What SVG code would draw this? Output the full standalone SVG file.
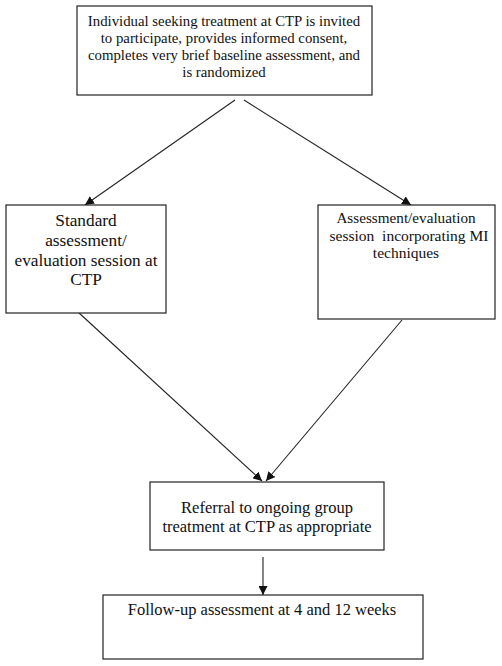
<svg xmlns="http://www.w3.org/2000/svg" width="502" height="666" viewBox="0 0 502 666">
<defs>
<style>
.box{fill:#fff;stroke:#222;stroke-width:1.2}
.t{fill:#111;text-anchor:middle}
.c{stroke:#222;stroke-width:1.1;fill:none;marker-end:url(#ah)}
</style>
<marker id="ah" viewBox="0 0 10 10" refX="10" refY="5" markerWidth="9" markerHeight="9" markerUnits="userSpaceOnUse" orient="auto">
<path d="M0,0 L10,5 L0,10 z" fill="#111"/>
</marker>
</defs>
<rect width="502" height="666" fill="#fff"/>
<g id="connectors">
<line class="c" x1="235" y1="100" x2="85" y2="205"/>
<line class="c" x1="244" y1="100" x2="411" y2="205"/>
<line class="c" x1="78" y1="312" x2="262" y2="481"/>
<line class="c" x1="402" y1="320" x2="266" y2="481"/>
<line class="c" x1="263" y1="557" x2="263" y2="595"/>
</g>
<g font-family="'Liberation Serif', 'DejaVu Serif', serif">
<g id="n1">
<rect class="box" x="77" y="6" width="295" height="89"/>
<text class="t" font-size="14.8" x="224" y="26">Individual seeking treatment at CTP is invited</text>
<text class="t" font-size="14.8" x="224" y="43">to participate, provides informed consent,</text>
<text class="t" font-size="14.8" x="224" y="60">completes very brief baseline assessment, and</text>
<text class="t" font-size="14.8" x="224" y="77">is randomized</text>
</g>
<g id="n2">
<rect class="box" x="6" y="205" width="160" height="108"/>
<text class="t" font-size="17.3" x="86" y="226">Standard</text>
<text class="t" font-size="17.3" x="86" y="246">assessment/</text>
<text class="t" font-size="17.3" x="86" y="266">evaluation session at</text>
<text class="t" font-size="17.3" x="86" y="285">CTP</text>
</g>
<g id="n3">
<rect class="box" x="318" y="205" width="177" height="114"/>
<text class="t" font-size="15.2" x="406" y="223">Assessment/evaluation</text>
<text class="t" font-size="15.5" x="409" y="241" xml:space="preserve">session  incorporating MI</text>
<text class="t" font-size="15.5" x="406" y="258">techniques</text>
</g>
<g id="n4">
<rect class="box" x="150" y="482" width="234" height="68"/>
<text class="t" font-size="16.5" x="267" y="513">Referral to ongoing group</text>
<text class="t" font-size="16.5" x="267" y="532">treatment at CTP as appropriate</text>
</g>
<g id="n5">
<rect class="box" x="103" y="595" width="320" height="64"/>
<text class="t" font-size="16.5" x="262" y="615">Follow-up assessment at 4 and 12 weeks</text>
</g>
</g>
</svg>
